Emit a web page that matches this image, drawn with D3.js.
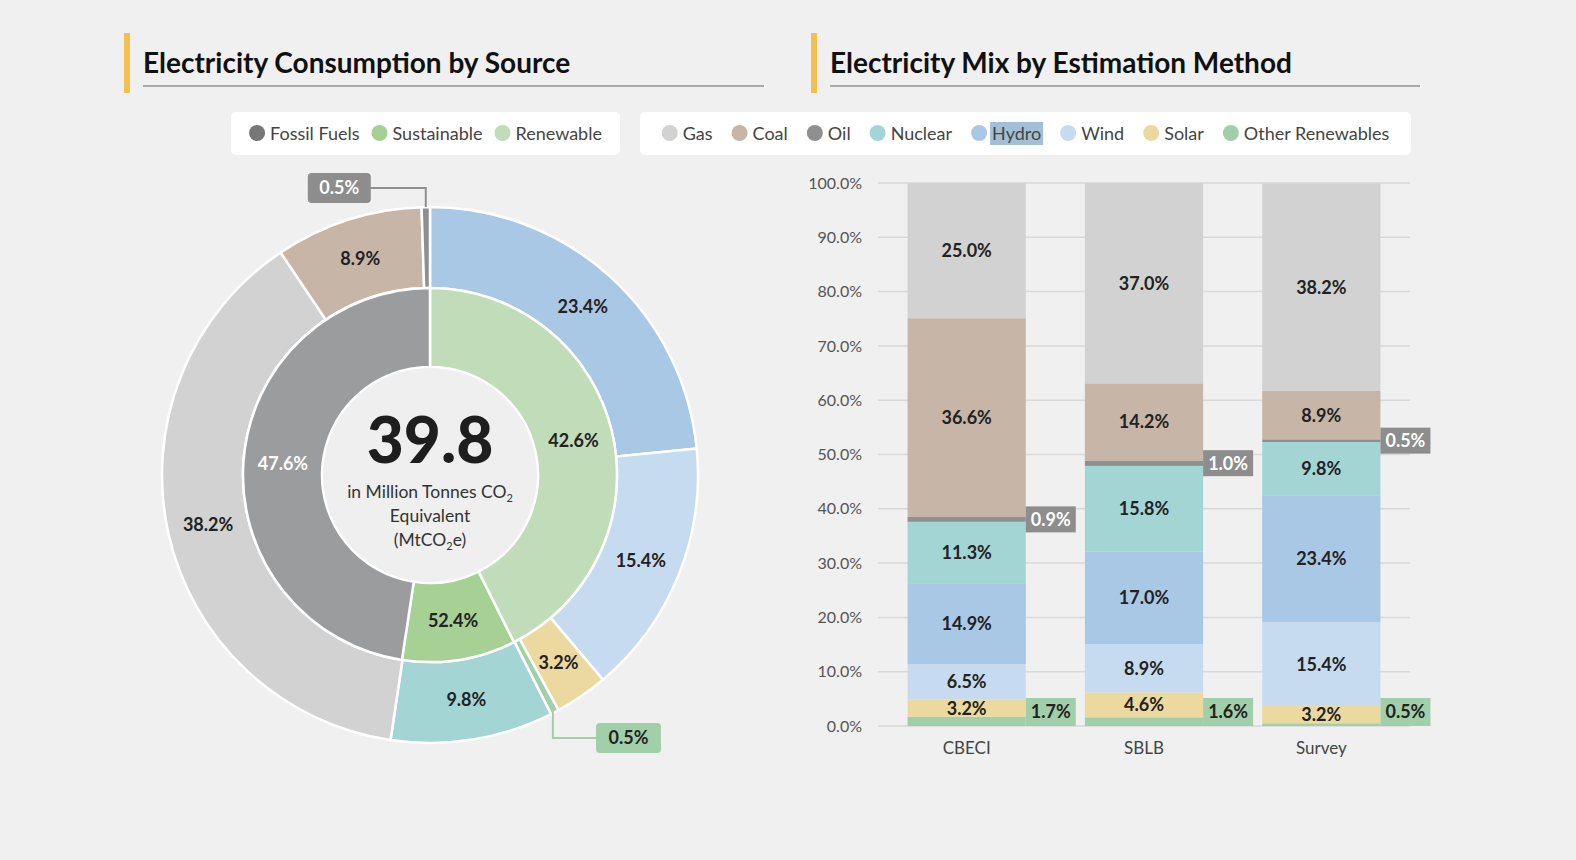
<!DOCTYPE html>
<html>
<head>
<meta charset="utf-8">
<script src="https://cdn.jsdelivr.net/npm/d3@7"></script>
<style>
  html, body { margin: 0; padding: 0; background: #f0f0f0; }
  svg { display: block; font-family: Lato, "Open Sans", sans-serif; }
</style>
</head>
<body>
<svg id="chart" width="1576" height="860"></svg>
<script>
// ---------------- DATA ----------------
const sourceNames = ["Hydro", "Wind", "Solar", "Other Renewables", "Nuclear", "Gas", "Coal", "Oil"];
const sourceShares = [23.4, 15.4, 3.2, 0.5, 9.8, 38.2, 8.9, 0.5];

const groupNames = ["Renewable", "Sustainable", "Fossil Fuels"];
const groupShares = [42.6, 9.8, 47.6];
const groupLabels = ["42.6%", "52.4%", "47.6%"];

const totalValue = "39.8";

const methods = ["CBECI", "SBLB", "Survey"];
const stackOrder = ["Other Renewables", "Solar", "Wind", "Hydro", "Nuclear", "Oil", "Coal", "Gas"];
const otherRenewables = [1.7, 1.6, 0.5];
const solar = [3.2, 4.6, 3.2];
const wind = [6.5, 8.9, 15.4];
const hydro = [14.9, 17.0, 23.4];
const nuclear = [11.3, 15.8, 9.8];
const oil = [0.9, 1.0, 0.5];
const coal = [36.6, 14.2, 8.9];
const gas = [25.0, 37.0, 38.2];

const yTicks = [0, 10, 20, 30, 40, 50, 60, 70, 80, 90, 100];

const leftLegend = ["Fossil Fuels", "Sustainable", "Renewable"];
const rightLegend = ["Gas", "Coal", "Oil", "Nuclear", "Hydro", "Wind", "Solar", "Other Renewables"];

// ---------------- STYLE ----------------
const colors = {
  "Gas": "#d1d2d1", "Coal": "#c7b5a8", "Oil": "#8f8f8f", "Nuclear": "#a3d5d5",
  "Hydro": "#a9c8e6", "Wind": "#c6dbef", "Solar": "#ecd99f", "Other Renewables": "#a1cfa9",
  "Fossil Fuels": "#9b9c9e", "Sustainable": "#a7d095", "Renewable": "#c0dcb8"
};
const legendDot = Object.assign({}, colors, {"Fossil Fuels": "#777777"});

const svg = d3.select("#chart");
const ink = "#222";

// ---------------- TITLES ----------------
function title(x, text, lineEnd) {
  svg.append("rect").attr("x", x - 19).attr("y", 33).attr("width", 6).attr("height", 60).attr("fill", "#f4c04e");
  svg.append("text").attr("x", x).attr("y", 73).attr("font-size", 28).attr("font-weight", 700)
    .attr("fill", "#111").text(text);
  svg.append("line").attr("x1", x).attr("x2", lineEnd).attr("y1", 86).attr("y2", 86)
    .attr("stroke", "#a9a9a9").attr("stroke-width", 2);
}
title(143, "Electricity Consumption by Source", 764);
title(830, "Electricity Mix by Estimation Method", 1420);

// ---------------- LEGENDS ----------------
function legend(items, x0, x1, opts) {
  const g = svg.append("g");
  g.append("rect").attr("x", x0).attr("y", 112).attr("width", x1 - x0).attr("height", 43)
    .attr("rx", 5).attr("fill", "#ffffff");
  const inner = g.append("g");
  let x = 0;
  items.forEach((name) => {
    const it = inner.append("g").attr("transform", `translate(${x},0)`);
    it.append("circle").attr("cx", 8).attr("cy", 133).attr("r", 8).attr("fill", legendDot[name]);
    const t = it.append("text").attr("x", 21).attr("y", 139.5).attr("font-size", 18)
      .attr("fill", "#444").text(name);
    const w = t.node().getComputedTextLength();
    if (name === opts.highlight) {
      it.insert("rect", "text").attr("x", 19).attr("y", 122).attr("width", w + 4).attr("height", 23)
        .attr("fill", "#a3bfd6");
    }
    x += 21 + w + opts.gap;
  });
  const total = x - opts.gap;
  inner.attr("transform", `translate(${x0 + (x1 - x0 - total) / 2},0)`);
}
legend(leftLegend, 231, 620, {gap: 12});
legend(rightLegend, 640, 1411, {gap: 19, highlight: "Hydro"});

// ---------------- DONUT ----------------
const cx = 430, cy = 475;
const rOuter = 268, rMid = 187, rInner = 108;
const dg = svg.append("g").attr("transform", `translate(${cx},${cy})`);

const pie = d3.pie().sort(null).value(d => d.v);
const outerData = pie(sourceNames.map((n, i) => ({n, v: sourceShares[i]})));
const innerData = pie(groupNames.map((n, i) => ({n, v: groupShares[i], label: groupLabels[i]})));

const arcOuter = d3.arc().innerRadius(rMid).outerRadius(rOuter);
const arcInner = d3.arc().innerRadius(rInner).outerRadius(rMid);

dg.selectAll("path.outer").data(outerData).join("path").attr("class", "outer")
  .attr("d", arcOuter).attr("fill", d => colors[d.data.n]).attr("stroke", "#fff").attr("stroke-width", 2.5);
dg.selectAll("path.inner").data(innerData).join("path").attr("class", "inner")
  .attr("d", arcInner).attr("fill", d => colors[d.data.n]).attr("stroke", "#fff").attr("stroke-width", 2.5);
dg.append("circle").attr("r", rInner - 1.2).attr("fill", "#efefef");

// outer labels (big slices)
dg.selectAll("text.olab").data(outerData.filter(d => d.data.v >= 2)).join("text").attr("class", "olab")
  .attr("transform", d => `translate(${arcOuter.centroid(d)})`)
  .attr("text-anchor", "middle").attr("dy", "0.35em").attr("font-size", 18).attr("font-weight", 700)
  .attr("fill", ink).text(d => d.data.v.toFixed(1) + "%");
dg.selectAll("text.ilab").data(innerData).join("text").attr("class", "ilab")
  .attr("transform", d => `translate(${arcInner.centroid(d)})`)
  .attr("text-anchor", "middle").attr("dy", "0.35em").attr("font-size", 18).attr("font-weight", 700)
  .attr("fill", d => d.data.n === "Fossil Fuels" ? "#fff" : ink).text(d => d.data.label);

// callouts for tiny slices
function polar(angle, r) { return [r * Math.sin(angle), -r * Math.cos(angle)]; }
const oilSlice = outerData.find(d => d.data.n === "Oil");
const othSlice = outerData.find(d => d.data.n === "Other Renewables");
{
  const a = (oilSlice.startAngle + oilSlice.endAngle) / 2;
  const p = polar(a, rOuter);
  const bx = p[0] - 118, by = -287;
  dg.append("path").attr("d", `M${p[0]},${p[1]} V${by} H${bx + 60}`).attr("fill", "none")
    .attr("stroke", colors["Oil"]).attr("stroke-width", 2);
  dg.append("rect").attr("x", bx).attr("y", by - 15).attr("width", 63).attr("height", 30).attr("rx", 4)
    .attr("fill", "#8c8d8c");
  dg.append("text").attr("x", bx + 31.5).attr("y", by).attr("dy", "0.35em").attr("text-anchor", "middle")
    .attr("font-size", 18).attr("font-weight", 700).attr("fill", "#fff").text(oilSlice.data.v.toFixed(1) + "%");
}
{
  const a = (othSlice.startAngle + othSlice.endAngle) / 2;
  const p = polar(a, rOuter - 4);
  const by = 263, bx = 166;
  dg.append("path").attr("d", `M${p[0]},${p[1]} V${by} H${bx}`).attr("fill", "none")
    .attr("stroke", colors["Other Renewables"]).attr("stroke-width", 2);
  dg.append("rect").attr("x", bx).attr("y", by - 15).attr("width", 65).attr("height", 30).attr("rx", 4)
    .attr("fill", colors["Other Renewables"]);
  dg.append("text").attr("x", bx + 32.5).attr("y", by).attr("dy", "0.35em").attr("text-anchor", "middle")
    .attr("font-size", 18).attr("font-weight", 700).attr("fill", ink).text(othSlice.data.v.toFixed(1) + "%");
}

// center text
dg.append("text").attr("y", -12).attr("text-anchor", "middle").attr("font-size", 64).attr("font-weight", 900)
  .attr("fill", "#1e1e1e").text(totalValue);
const c1 = dg.append("text").attr("y", 23).attr("text-anchor", "middle").attr("font-size", 17.5).attr("fill", "#333");
c1.append("tspan").text("in Million Tonnes CO");
c1.append("tspan").attr("font-size", 11).attr("dy", 4).text("2");
dg.append("text").attr("y", 47).attr("text-anchor", "middle").attr("font-size", 17.5).attr("fill", "#333").text("Equivalent");
const c3 = dg.append("text").attr("y", 71).attr("text-anchor", "middle").attr("font-size", 17.5).attr("fill", "#333");
c3.append("tspan").text("(MtCO");
c3.append("tspan").attr("font-size", 11).attr("dy", 4).text("2");
c3.append("tspan").attr("dy", -4).text("e)");

// ---------------- STACKED BARS ----------------
const seriesValues = {
  "Other Renewables": otherRenewables, "Solar": solar, "Wind": wind, "Hydro": hydro,
  "Nuclear": nuclear, "Oil": oil, "Coal": coal, "Gas": gas
};
const rows = methods.map((m, i) => {
  const r = {method: m};
  stackOrder.forEach(k => r[k] = seriesValues[k][i]);
  return r;
});
const stacked = d3.stack().keys(stackOrder)(rows);

const x = d3.scaleBand().domain(methods).range([878, 1410]).paddingInner(1 / 3).paddingOuter(1 / 6);
const y = d3.scaleLinear().domain([0, 100]).range([726, 183]);

const bg = svg.append("g");
bg.selectAll("line.grid").data(yTicks).join("line").attr("class", "grid")
  .attr("x1", 878).attr("x2", 1410).attr("y1", d => y(d)).attr("y2", d => y(d))
  .attr("stroke", "#d8d8d8").attr("stroke-width", 1.5);

const yAxis = d3.axisLeft(y).tickValues(yTicks).tickFormat(d => d.toFixed(1) + "%").tickSize(0).tickPadding(0);
const ya = svg.append("g").attr("transform", "translate(862,0)").call(yAxis);
ya.select(".domain").remove();
ya.selectAll("text").attr("font-size", 16).attr("fill", "#555").attr("font-family", "Lato, sans-serif");

const xAxis = d3.axisBottom(x).tickSize(0).tickPadding(0);
const xa = svg.append("g").attr("transform", "translate(0,742)").call(xAxis);
xa.select(".domain").remove();
xa.selectAll("text").attr("font-size", 17).attr("fill", "#444").attr("font-family", "Lato, sans-serif");

const layers = bg.selectAll("g.layer").data(stacked).join("g").attr("class", "layer")
  .attr("fill", d => colors[d.key]);
layers.selectAll("rect").data(d => d.map(p => Object.assign(p, {key: d.key}))).join("rect")
  .attr("x", d => x(d.data.method)).attr("width", x.bandwidth())
  .attr("y", d => y(Math.min(100, d[1]))).attr("height", d => y(d[0]) - y(Math.min(100, d[1])));

stacked.forEach(layer => {
  layer.forEach(p => {
    const v = p.data[layer.key];
    const label = v.toFixed(1) + "%";
    const bx = x(p.data.method);
    if (layer.key === "Oil") {
      const cyv = y((p[0] + p[1]) / 2);
      svg.append("rect").attr("x", bx + x.bandwidth()).attr("y", cyv - 13).attr("width", 50).attr("height", 26)
        .attr("fill", "#8c8d8c");
      svg.append("text").attr("x", bx + x.bandwidth() + 25).attr("y", cyv).attr("dy", "0.36em")
        .attr("text-anchor", "middle").attr("font-size", 18).attr("font-weight", 700).attr("fill", "#fff").text(label);
    } else if (layer.key === "Other Renewables") {
      svg.append("rect").attr("x", bx + x.bandwidth()).attr("y", y(0) - 28).attr("width", 50).attr("height", 28)
        .attr("fill", colors["Other Renewables"]);
      svg.append("text").attr("x", bx + x.bandwidth() + 25).attr("y", y(0) - 14).attr("dy", "0.36em")
        .attr("text-anchor", "middle").attr("font-size", 18).attr("font-weight", 700).attr("fill", ink).text(label);
    } else {
      const cyv = y((p[0] + Math.min(100, p[1])) / 2);
      svg.append("text").attr("x", bx + x.bandwidth() / 2).attr("y", cyv).attr("dy", "0.36em")
        .attr("text-anchor", "middle").attr("font-size", 18).attr("font-weight", 700).attr("fill", ink).text(label);
    }
  });
});
</script>
</body>
</html>
